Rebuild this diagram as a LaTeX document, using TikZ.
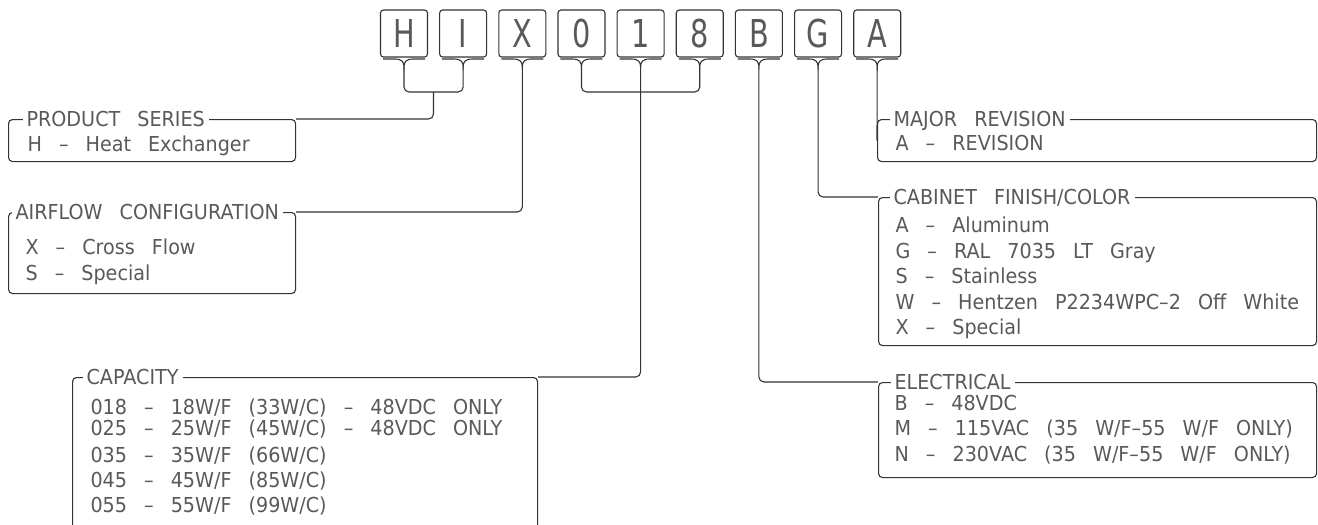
\documentclass[tikz,border=0pt]{standalone}
\usepackage{fontspec}
\setmainfont{DejaVu Sans}[FakeStretch=0.93,WordSpace=2.8]
\newfontfamily\boxfont{DejaVu Sans}[FakeStretch=0.75]

\begin{document}
\begin{tikzpicture}[x=1pt, y=-1pt, line width=1.1pt,
	wire/.style={draw=black!80, rounded corners=5pt},
	codebox/.style={draw=black!80, rounded corners=3pt, minimum width=47pt, minimum height=47pt,
		inner sep=0pt, text=black!65, font=\boxfont\fontsize{38.4}{40}\selectfont},
	panel/.style={draw=black!80, rounded corners=4pt, anchor=north west, inner sep=0pt},
	ptitle/.style={fill=white, anchor=west, inner xsep=4pt, inner ysep=0pt, text height=15pt,
		text depth=0pt, text=black!65, font=\fontsize{20.6}{24}\selectfont},
	item/.style={anchor=west, inner sep=0pt, text height=15pt, text depth=0pt,
		text=black!65, font=\fontsize{20.6}{24}\selectfont}]
	\useasboundingbox (0,0) rectangle (1318,525);
	\clip (0,0) rectangle (1318,525);

	% Code letters {c0 ... c8} and the brace under each
	\foreach \c [count=\i from 0] in {H,I,X,0,1,8,B,G,A} {
		\pgfmathsetmacro{\x}{404+59.15*\i}
		\node [codebox] (c\i) at (\x,33.5) {\c};
		\coordinate (t\i) at (\x,67);
		\draw [draw=black!80] (\x-21,59) -- (\x-9,59) .. controls (\x-2,59) and (\x,62) .. (t\i)
			.. controls (\x,62) and (\x+2,59) .. (\x+9,59) -- (\x+21,59);
	}
	\coordinate (hi) at (433.5,92);
	\coordinate (cp) at (640.3,92);

	% Panels
	\node [panel, minimum width=287pt, minimum height=42pt]  (ps)  at (8,119)   {};
	\node [panel, minimum width=287pt, minimum height=81pt]  (af)  at (8,212)   {};
	\node [panel, minimum width=465pt, minimum height=183pt] (cap) at (72,377)  {};
	\node [panel, minimum width=439pt, minimum height=42pt]  (mr)  at (877,119) {};
	\node [panel, minimum width=438pt, minimum height=148pt] (cf)  at (878,197) {};
	\node [panel, minimum width=438pt, minimum height=95pt]  (el)  at (878,382) {};

	% Paths
	\path [wire] (t0) |- (hi) -| (t1);
	\path [wire] (hi) |- (ps.north east);
	\path [wire] (t2) |- (af.north east);
	\path [wire] (t3) |- (cp) -| (t5);
	\path [wire] (t4) |- (cap.north east);
	\path [wire] (t6) |- (el.north west);
	\path [wire] (t7) |- (cf.north west);
	\path [wire] (t8) -- (mr.west);

	% Titles
	\node [ptitle] (ps-t)  at ([xshift=14pt]ps.north west)  {PRODUCT SERIES};
	\node [ptitle] (af-t)  at ([xshift=3pt]af.north west)   {AIRFLOW CONFIGURATION};
	\node [ptitle] (cap-t) at ([xshift=10pt]cap.north west) {CAPACITY};
	\node [ptitle] (mr-t)  at ([xshift=12pt]mr.north west)  {MAJOR REVISION};
	\node [ptitle] (cf-t)  at ([xshift=11pt]cf.north west)  {CABINET FINISH/COLOR};
	\node [ptitle] (el-t)  at ([xshift=12pt]el.north west)  {ELECTRICAL};

	% Items
	\node [item] (ps-1) at (27,144) {H -- Heat Exchanger};
	\node [item] (af-1) at (25,247) {X -- Cross Flow};
	\node [item] (af-2) at (25,273) {S -- Special};
	\node [item] (cap-1) at (90,407) {018 -- 18W/F (33W/C) -- 48VDC ONLY};
	\node [item] (cap-2) at (90,428) {025 -- 25W/F (45W/C) -- 48VDC ONLY};
	\node [item] (cap-3) at (90,455) {035 -- 35W/F (66W/C)};
	\node [item] (cap-4) at (90,480) {045 -- 45W/F (85W/C)};
	\node [item] (cap-5) at (90,505) {055 -- 55W/F (99W/C)};
	\node [item] (mr-1) at (895,143) {A -- REVISION};
	\foreach \t [count=\k] in {A -- Aluminum, G -- RAL 7035 LT Gray, S -- Stainless,
		W -- Hentzen P2234WPC--2 Off White, X -- Special}
		\node [item] (cf-\k) at (895,199.5+25.5*\k) {\t};
	\foreach \t [count=\k] in {B -- 48VDC, M -- 115VAC (35 W/F--55 W/F ONLY),
		N -- 230VAC (35 W/F--55 W/F ONLY)}
		\node [item] (el-\k) at (894,377+25.5*\k) {\t};

\end{tikzpicture}
\end{document}
